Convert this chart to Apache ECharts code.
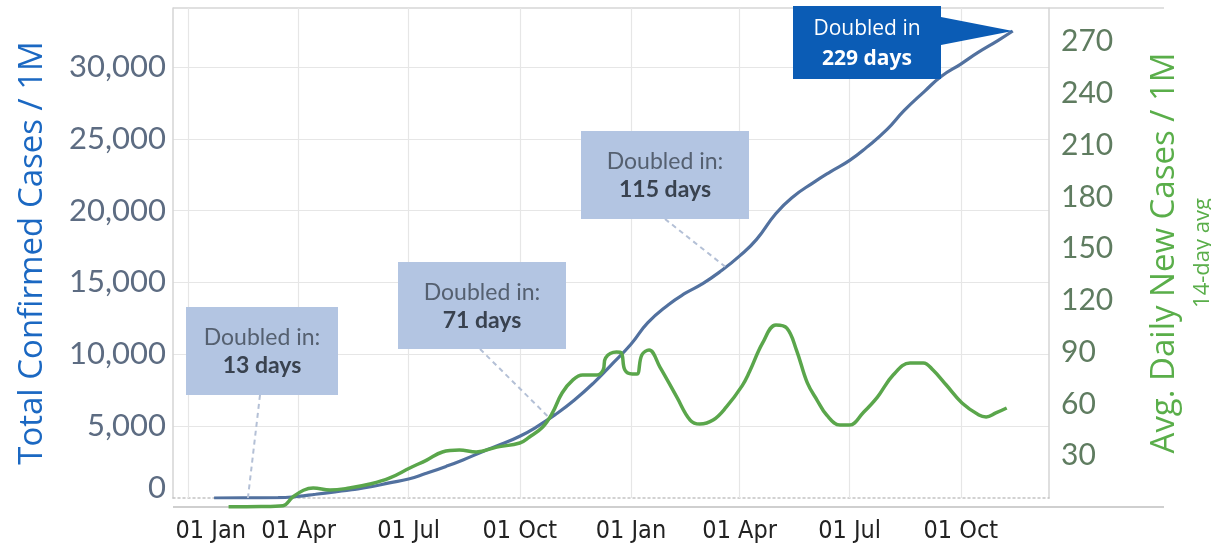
<!DOCTYPE html>
<html>
<head>
<meta charset="utf-8">
<script src="https://cdn.jsdelivr.net/npm/echarts@6/dist/echarts.min.js"></script>
<style>
  html, body { margin: 0; background: #fff; }
  #chart { width: 1211px; height: 544px; }
</style>
</head>
<body>
<div id="chart"></div>
<script>
// total confirmed cases per 1M (left axis)
var totalDates = ['2020-01-22','2020-02-15','2020-03-15','2020-03-31','2020-04-15','2020-05-01','2020-05-15',
  '2020-06-01','2020-06-15','2020-07-01','2020-07-15','2020-08-01','2020-08-15','2020-09-01','2020-09-15',
  '2020-10-01','2020-10-15','2020-11-01','2020-11-15','2020-12-01','2020-12-15','2021-01-01','2021-01-15',
  '2021-02-01','2021-02-15','2021-03-01','2021-03-15','2021-04-01','2021-04-15','2021-05-01','2021-05-15',
  '2021-06-01','2021-06-15','2021-07-01','2021-07-15','2021-08-01','2021-08-15','2021-09-01','2021-09-15',
  '2021-10-01','2021-10-15','2021-11-01','2021-11-13'];
var totalValues = [0,10,22,110,260,430,580,
  800,1050,1320,1700,2200,2650,3250,3720,
  4300,4950,5900,6800,8000,9200,10700,12200,
  13450,14250,14900,15700,16850,18000,19800,20950,
  21950,22700,23500,24400,25650,26950,28300,29350,
  30200,30990,31850,32500];

// avg daily new cases per 1M, 14-day avg (right axis)
var dailyDates = ['2020-02-03','2020-03-01','2020-03-19','2020-03-27','2020-04-05','2020-04-13','2020-04-27',
  '2020-05-13','2020-05-30','2020-06-15','2020-07-02','2020-07-16','2020-07-29','2020-08-12','2020-08-26',
  '2020-09-12','2020-10-01','2020-10-09','2020-10-20','2020-10-28','2020-11-05','2020-11-14','2020-11-22',
  '2020-12-04','2020-12-09','2020-12-11','2020-12-20','2020-12-24','2020-12-27','2021-01-02','2021-01-06',
  '2021-01-10','2021-01-16','2021-01-25','2021-02-08','2021-02-19','2021-02-27','2021-03-10','2021-03-21',
  '2021-04-03','2021-04-09','2021-04-20','2021-05-01','2021-05-10','2021-05-18','2021-05-27','2021-06-04',
  '2021-06-12','2021-06-23','2021-07-01','2021-07-12','2021-07-24','2021-08-06','2021-08-20','2021-08-31',
  '2021-09-08','2021-09-19','2021-10-02','2021-10-16','2021-10-22','2021-10-30','2021-11-08'];
var dailyValues = [0.4,0.5,1.0,6,10,11.3,10.1,
  11.3,13.6,17,22.9,27.5,32.2,33.3,32.2,
  35,37.4,40.9,46.7,54.8,66.4,74,76.8,
  76.8,79.7,86.7,90.1,89.6,79.7,77.4,77.4,
  88.4,91.3,81.4,64,50.7,48.4,50.7,58.3,
  70.5,78.5,95.4,105.8,104,91.3,72.2,62.3,
  53.6,47.8,47.8,54.8,64,76.8,83.8,83.8,
  79.7,71,60.6,53.6,52.5,54.8,57.7];

var tickDates = ['2020-01-01','2020-04-01','2020-07-01','2020-10-01','2021-01-01','2021-04-01','2021-07-01','2021-10-01'];
var tickLabels = ['01 Jan','01 Apr','01 Jul','01 Oct','01 Jan','01 Apr','01 Jul','01 Oct'];
var rightTicks = [30,60,90,120,150,180,210,240,270];

var callouts = [
  { head: 'Doubled in:', days: '13 days', date: '2020-02-19', value: 0 },
  { head: 'Doubled in:', days: '71 days', date: '2020-10-24', value: 5700 },
  { head: 'Doubled in:', days: '115 days', date: '2021-03-20', value: 16100 },
  { head: 'Doubled in', days: '229 days', date: '2021-11-13', value: 32500 }
];

function ts(d) { return Date.parse(d + 'T00:00:00Z'); }
function zip(a, b) { return a.map(function (d, i) { return [ts(d), b[i]]; }); }

var tickValues = tickDates.map(ts);
var xMin = ts('2019-12-19'), xMax = ts('2021-12-13');

var chart = echarts.init(document.getElementById('chart'));

chart.setOption({
  animation: false,
  grid: { left: 173, right: 162, top: 8, bottom: 46 },
  xAxis: [{
    type: 'value', min: xMin, max: xMax, position: 'bottom',
    axisLine: { show: false }, axisTick: { show: false }, splitLine: { show: false },
    axisLabel: {
      customValues: tickValues, margin: 21, fontFamily: 'Liberation Sans Narrow, DejaVu Sans Condensed, sans-serif',
      fontSize: 25, color: '#222',
      formatter: function (v) {
        var i = tickValues.indexOf(v);
        return i === 0 ? '{a|' + tickLabels[i] + '}' : tickLabels[i];
      },
      rich: { a: { padding: [0, 0, 0, 44] } }
    }
  }, {
    type: 'value', min: xMin, max: xMax, position: 'bottom', offset: 0,
    axisLine: { show: true, lineStyle: { color: '#c4c4c4', width: 1.5, type: [2, 3] } },
    axisTick: { show: false }, axisLabel: { show: false }, splitLine: { show: false }
  }],
  yAxis: [{
    type: 'value', min: 0, max: 34100, interval: 5000, position: 'left',
    name: 'Total Confirmed Cases / 1M', nameLocation: 'middle', nameRotate: 90, nameGap: 124,
    nameTextStyle: { fontFamily: 'Open Sans', fontSize: 33, color: '#1b68c2' },
    axisLine: { show: true, lineStyle: { color: '#d4d4d4', width: 1.5 } },
    axisTick: { show: false },
    axisLabel: {
      showMaxLabel: false, margin: 7, fontFamily: 'Lato', fontSize: 31, color: '#5d6c82',
      formatter: function (v) {
        var s = v.toLocaleString('en-US');
        return v === 0 ? '{z|0}' : s;
      },
      rich: { z: { padding: [0, 0, 20, 0] } }
    },
    splitLine: { show: true, showMinLine: false, showMaxLine: false, lineStyle: { color: '#e6e6e6', width: 1.2 } }
  }, {
    type: 'value', min: 5.5, max: 289.6, position: 'right',
    name: 'Avg. Daily New Cases / 1M', nameLocation: 'middle', nameRotate: 90, nameGap: 99,
    nameTextStyle: { fontFamily: 'Open Sans', fontSize: 33, color: '#5aae4a' },
    axisLine: { show: true, lineStyle: { color: '#d4d4d4', width: 1.5 } },
    axisTick: { show: false },
    axisLabel: { customValues: rightTicks, margin: 12, fontFamily: 'Lato', fontSize: 30, color: '#5f7c60' },
    splitLine: { show: false }
  }],
  series: [{
    name: 'Total', type: 'line', xAxisIndex: 0, yAxisIndex: 0, z: 3,
    data: zip(totalDates, totalValues), showSymbol: false, smooth: 0.5,
    lineStyle: { color: '#52719f', width: 3.2 },
    markLine: {
      silent: true, symbol: 'none', z: 1, label: { show: false },
      lineStyle: { color: '#e6e6e6', width: 1.2, type: 'solid' },
      data: tickValues.map(function (t) { return { xAxis: t }; })
    }
  }, {
    name: 'Daily', type: 'line', xAxisIndex: 0, yAxisIndex: 1, z: 4, clip: false,
    data: zip(dailyDates, dailyValues), showSymbol: false, smooth: 0.4,
    lineStyle: { color: '#5aa64b', width: 3.5 }
  }]
});

// annotation boxes (layout) with leaders ending on data coordinates
var boxes = [
  { x: 186, y: 307, w: 152, h: 88, from: [260, 395] },
  { x: 398, y: 262, w: 168, h: 87, from: [480, 349] },
  { x: 581, y: 131, w: 168, h: 88, from: [665, 219] },
  { x: 793, y: 6, w: 148, h: 73 }
];

var g = [
  { type: 'line', shape: { x1: 173, y1: 8, x2: 1164, y2: 8 }, style: { stroke: '#d6d6d6', lineWidth: 1.5 } },
  { type: 'line', shape: { x1: 173, y1: 507, x2: 1164, y2: 507 }, style: { stroke: '#cfcfcf', lineWidth: 2 } },
  { type: 'text', x: 1203, y: 253, rotation: Math.PI / 2,
    style: { text: '14-day avg', fontFamily: 'Open Sans', fontSize: 22, fill: '#5aae4a', align: 'center', verticalAlign: 'middle' } }
];

callouts.forEach(function (c, i) {
  var b = boxes[i];
  var p = chart.convertToPixel({ xAxisIndex: 0, yAxisIndex: 0 }, [ts(c.date), c.value]);
  var cx = b.x + b.w / 2;
  if (i < 3) {
    g.push({ type: 'line', z: 50, shape: { x1: b.from[0], y1: b.from[1], x2: p[0], y2: p[1] },
      style: { stroke: '#b4c0d6', lineWidth: 2, lineDash: [5, 4] } });
    g.push({ type: 'rect', z: 60, shape: { x: b.x, y: b.y, width: b.w, height: b.h }, style: { fill: '#b3c5e2' } });
    g.push({ type: 'text', z: 61, x: cx, y: b.y + 31,
      style: { text: c.head, fontFamily: 'Lato', fontSize: 23, fill: '#556070', align: 'center', verticalAlign: 'middle' } });
    g.push({ type: 'text', z: 61, x: cx, y: b.y + 59,
      style: { text: c.days, fontFamily: 'Lato', fontWeight: 'bold', fontSize: 23, fill: '#39424f', align: 'center', verticalAlign: 'middle' } });
  } else {
    g.push({ type: 'polygon', z: 60, shape: { points: [[b.x + b.w, 17], [b.x + b.w, 45], p] }, style: { fill: '#0b5cb5' } });
    g.push({ type: 'rect', z: 60, shape: { x: b.x, y: b.y, width: b.w, height: b.h }, style: { fill: '#0b5cb5' } });
    g.push({ type: 'text', z: 61, x: cx, y: b.y + 23,
      style: { text: c.head, fontFamily: 'Open Sans', fontSize: 21, fill: '#fff', align: 'center', verticalAlign: 'middle' } });
    g.push({ type: 'text', z: 61, x: cx, y: b.y + 53,
      style: { text: c.days, fontFamily: 'Open Sans', fontWeight: 'bold', fontSize: 21, fill: '#fff', align: 'center', verticalAlign: 'middle' } });
  }
});

chart.setOption({ graphic: g });
</script>
</body>
</html>
